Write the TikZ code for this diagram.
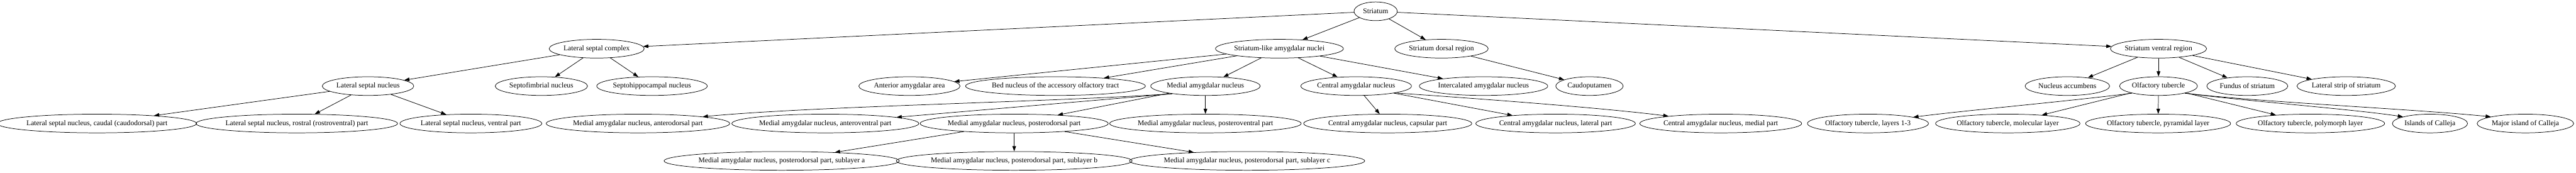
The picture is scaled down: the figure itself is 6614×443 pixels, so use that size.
\documentclass[tikz,border=0pt]{standalone}
\usepackage{fontspec}
\setmainfont{Liberation Serif}
\usetikzlibrary{shapes.geometric,arrows.meta}
\begin{document}
\begin{tikzpicture}[x=0.75pt,y=-0.75pt,
  nd/.style={draw, ellipse, line width=0.9pt, inner sep=0pt, minimum height=36pt,
    minimum width=#1*0.75pt, font=\fontsize{14}{16}\selectfont},
  ed/.style={line width=0.9pt, -{Triangle[length=10pt,width=7pt]}}]
\useasboundingbox (0,0) rectangle (6614,443);
% row 0
\node[nd=111] (st) at (3532,29) {Striatum};
% row 1
\node[nd=244] (lsc) at (1532,125) {Lateral septal complex};
\node[nd=326] (slan) at (3285,125) {Striatum-like amygdalar nuclei};
\node[nd=240] (sdr) at (3701,125) {Striatum dorsal region};
\node[nd=247] (svr) at (5542,125) {Striatum ventral region};
% row 2
\node[nd=235] (lsn) at (945,221) {Lateral septal nucleus};
\node[nd=237] (sfn) at (1390,221) {Septofimbrial nucleus};
\node[nd=283] (shn) at (1674,221) {Septohippocampal nucleus};
\node[nd=260] (aaa) at (2335,221) {Anterior amygdalar area};
\node[nd=443] (bnaot) at (2710,221) {Bed nucleus of the accessory olfactory tract};
\node[nd=281] (mea) at (3095,221) {Medial amygdalar nucleus};
\node[nd=284] (cea) at (3482,221) {Central amygdalar nucleus};
\node[nd=324] (ia) at (3809,221) {Intercalated amygdalar nucleus};
\node[nd=173] (cp) at (4081,221) {Caudoputamen};
\node[nd=217] (acb) at (5308,221) {Nucleus accumbens};
\node[nd=200] (ot) at (5542,221) {Olfactory tubercle};
\node[nd=208] (fs) at (5770,221) {Fundus of striatum};
\node[nd=253] (lss) at (6024,221) {Lateral strip of striatum};
% row 3
\node[nd=488] (lsnc) at (249,317) {Lateral septal nucleus, caudal (caudodorsal) part};
\node[nd=492] (lsnr) at (762,317) {Lateral septal nucleus, rostral (rostroventral) part};
\node[nd=356] (lsnv) at (1209,317) {Lateral septal nucleus, ventral part};
\node[nd=454] (mead) at (1638,317) {Medial amygdalar nucleus, anterodorsal part};
\node[nd=460] (meav) at (2119,317) {Medial amygdalar nucleus, anteroventral part};
\node[nd=463] (mepd) at (2604,317) {Medial amygdalar nucleus, posterodorsal part};
\node[nd=472] (mepv) at (3095,317) {Medial amygdalar nucleus, posteroventral part};
\node[nd=417] (ceac) at (3563,317) {Central amygdalar nucleus, capsular part};
\node[nd=396] (ceal) at (3994,317) {Central amygdalar nucleus, lateral part};
\node[nd=403] (ceam) at (4418,317) {Central amygdalar nucleus, medial part};
\node[nd=307] (ot13) at (4796,317) {Olfactory tubercle, layers 1-3};
\node[nd=363] (otm) at (5155,317) {Olfactory tubercle, molecular layer};
\node[nd=362] (otp) at (5541,317) {Olfactory tubercle, pyramidal layer};
\node[nd=371] (otpo) at (5932,317) {Olfactory tubercle, polymorph layer};
\node[nd=193] (isc) at (6239,317) {Islands of Calleja};
\node[nd=248] (mic) at (6484,317) {Major island of Calleja};
% row 4
\node[nd=572] (mepda) at (2007,413) {Medial amygdalar nucleus, posterodorsal part, sublayer a};
\node[nd=574] (mepdb) at (2604,413) {Medial amygdalar nucleus, posterodorsal part, sublayer b};
\node[nd=573] (mepdc) at (3202,413) {Medial amygdalar nucleus, posterodorsal part, sublayer c};
% edges
\draw[ed] (st) -- (lsc);
\draw[ed] (st) -- (slan);
\draw[ed] (st) -- (sdr);
\draw[ed] (st) -- (svr);
\draw[ed] (lsc) -- (lsn);
\draw[ed] (lsc) -- (sfn);
\draw[ed] (lsc) -- (shn);
\draw[ed] (lsn) -- (lsnc);
\draw[ed] (lsn) -- (lsnr);
\draw[ed] (lsn) -- (lsnv);
\draw[ed] (slan) -- (aaa);
\draw[ed] (slan) -- (bnaot);
\draw[ed] (slan) -- (mea);
\draw[ed] (slan) -- (cea);
\draw[ed] (slan) -- (ia);
\draw[ed] (sdr) -- (cp);
\draw[ed] (mea.-167.9) .. controls (2700,262) and (2100,272) .. (mead.6.3);
\draw[ed] (mea.-167.9) -- (meav.5.7);
\draw[ed] (mea) -- (mepd);
\draw[ed] (mea) -- (mepv);
\draw[ed] (mepd) -- (mepda);
\draw[ed] (mepd) -- (mepdb);
\draw[ed] (mepd) -- (mepdc);
\draw[ed] (cea) -- (ceac);
\draw[ed] (cea) -- (ceal);
\draw[ed] (cea.-10.3) .. controls (3750,250) and (4100,275) .. (ceam.172.9);
\draw[ed] (svr) -- (acb);
\draw[ed] (svr) -- (ot);
\draw[ed] (svr) -- (fs);
\draw[ed] (svr) -- (lss);
\draw[ed] (ot.-165.7) .. controls (5330,258) and (5050,283) .. (ot13.8.6);
\draw[ed] (ot) -- (otm);
\draw[ed] (ot) -- (otp);
\draw[ed] (ot) -- (otpo);
\draw[ed] (ot.-15.6) .. controls (5750,258) and (6040,280) .. (isc.166);
\draw[ed] (ot.-15.6) .. controls (5800,262) and (6200,280) .. (mic.169);
\end{tikzpicture}
\end{document}
